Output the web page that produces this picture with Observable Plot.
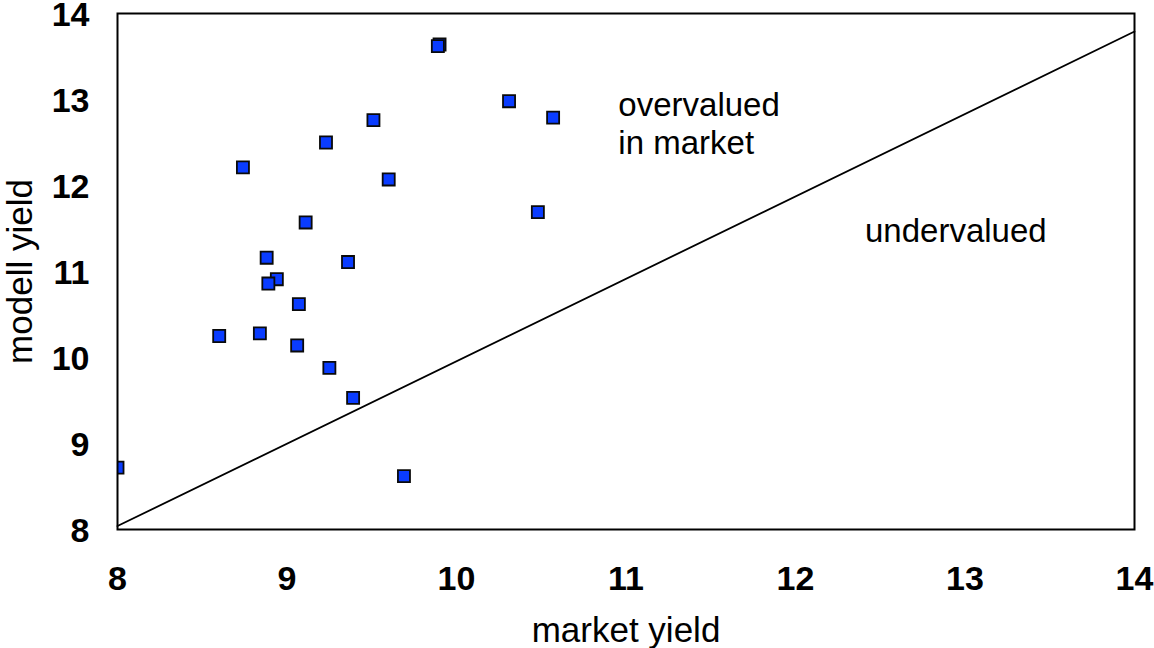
<!DOCTYPE html>
<html>
<head>
<meta charset="utf-8">
<script src="https://cdn.jsdelivr.net/npm/d3@7"></script>
<script src="https://cdn.jsdelivr.net/npm/@observablehq/plot@0.6"></script>
<style>
  html, body { margin: 0; padding: 0; background: #fff; }
  #chart svg { display: block; }
</style>
</head>
<body>
<div id="chart"></div>
<script>
// Market yield vs modell yield
const marketYield = [9.90, 9.89, 10.31, 10.57, 9.51, 9.23, 8.74, 9.60, 10.48, 9.11, 8.88, 9.36, 8.94, 8.89, 9.07, 8.60, 8.84, 9.06, 9.25, 9.39, 9.69, 8.00];
const modellYield = [13.64, 13.62, 12.98, 12.79, 12.76, 12.50, 12.21, 12.07, 11.69, 11.57, 11.16, 11.11, 10.91, 10.86, 10.62, 10.25, 10.28, 10.14, 9.88, 9.53, 8.62, 8.72];

// reference line (end points)
const lineX = [8, 14];
const lineY = [8.04, 13.79];

const xTicks = [8, 9, 10, 11, 12, 13, 14];
const yTicks = [8, 9, 10, 11, 12, 13, 14];

const annotationText = ["overvalued\nin market", "undervalued"];
const annotationX = [10.955, 12.41];
const annotationY = [12.73, 11.49];

// axis titles
const xTitle = "market yield";
const yTitle = "modell yield";
const yTitleAt = {x: 7.43, y: 11}; // left of the frame, vertically centred

const points = marketYield.map((m, i) => ({x: m, y: modellYield[i]}));
const refLine = lineX.map((x, i) => ({x, y: lineY[i]}));
const notes = annotationText.map((t, i) => ({text: t, x: annotationX[i], y: annotationY[i]}));

const font = "'Liberation Sans', Arial, Helvetica, sans-serif";

const chart = Plot.plot({
  width: 1154,
  height: 648,
  marginLeft: 117,
  marginRight: 20,
  marginTop: 13,
  marginBottom: 119,
  style: {fontFamily: font, background: "#fff", color: "#000", overflow: "visible"},
  x: {domain: [8, 14], ticks: xTicks},
  y: {domain: [8, 14], ticks: yTicks},
  marks: [
    Plot.axisX(xTicks, {tickSize: 0, tickPadding: 36, tickFormat: "d", fontSize: 34, fontWeight: "bold", label: null, fill: "#000"}),
    Plot.axisY(yTicks, {tickSize: 0, tickPadding: 28, tickFormat: "d", fontSize: 34, fontWeight: "bold", label: null, fill: "#000", dy: 2}),
    Plot.line(refLine, {x: "x", y: "y", stroke: "#000", strokeWidth: 1.8}),
    Plot.dot(points, {x: "x", y: "y", symbol: "square", r: 6.8, fill: "#0a3cff", stroke: "#0a0a0a", strokeWidth: 1.8, clip: true}),
    Plot.text(notes, {x: "x", y: "y", text: "text", textAnchor: "start", lineAnchor: "middle", lineHeight: 1.15, fontSize: 33, fill: "#000"}),
    Plot.text([xTitle], {frameAnchor: "bottom", dy: 112, fontSize: 35, fill: "#000"}),
    Plot.text([yTitle], {x: [yTitleAt.x], y: [yTitleAt.y], text: d => d, rotate: -90, fontSize: 35, fill: "#000"}),
    Plot.frame({stroke: "#000", strokeWidth: 2})
  ]
});
document.getElementById("chart").appendChild(chart);
</script>
</body>
</html>
